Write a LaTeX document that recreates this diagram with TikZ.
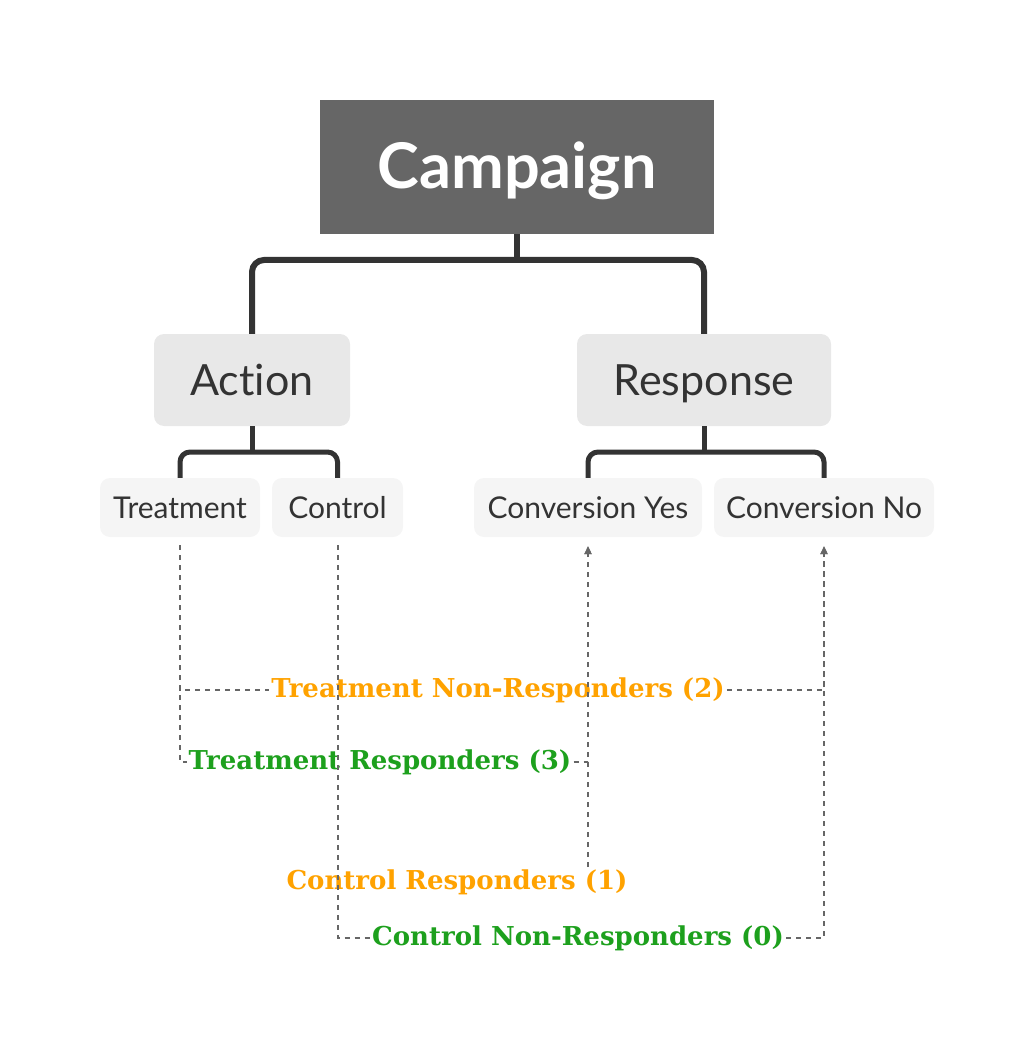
\documentclass[tikz,border=0pt]{standalone}
\usepackage{fontspec}
\setmainfont{Lato}[Ligatures=NoCommon]
\newfontfamily\labfont{DejaVu Serif}
\usetikzlibrary{arrows.meta}
\definecolor{campfill}{HTML}{666666}
\definecolor{midfill}{HTML}{E8E8E8}
\definecolor{leaffill}{HTML}{F5F5F5}
\definecolor{ink}{HTML}{333333}
\definecolor{dashgray}{HTML}{666666}
\definecolor{lblorange}{HTML}{FFA200}
\definecolor{lblgreen}{HTML}{1DA01D}
\tikzset{
  campbox/.style={rectangle, fill=campfill, text=white, minimum width=394pt, minimum height=134pt, inner sep=0pt, font=\fontsize{63}{70}\selectfont\bfseries, text height=43pt, text depth=0pt},
  midbox/.style={rectangle, rounded corners=10pt, fill=midfill, text=ink, minimum height=92pt, inner sep=0pt, font=\fontsize{43}{48}\selectfont, text height=30pt, text depth=0pt},
  leafbox/.style={rectangle, rounded corners=10pt, fill=leaffill, text=ink, minimum height=59pt, inner sep=0pt, font=\fontsize{30}{34}\selectfont, text height=21.5pt, text depth=0pt},
  treeline/.style={draw=ink, line width=6pt, rounded corners=12pt},
  treeline2/.style={draw=ink, line width=5pt, rounded corners=10pt},
  dashline/.style={draw=dashgray, line width=2pt, dash pattern=on 5pt off 5pt},
  dasharrow/.style={dashline, -{Triangle[length=8pt,width=7pt]}},
  lbl/.style={inner sep=2pt, font=\labfont\fontsize{26}{30}\selectfont\bfseries},
}
\begin{document}
\begin{tikzpicture}[x=1pt,y=-1pt]
\useasboundingbox (0,0) rectangle (1034,1056);
\node[campbox] (camp) at (517,167) {Campaign};
\node[midbox, minimum width=196pt] (act) at (252,380) {Action};
\node[midbox, minimum width=254pt] (resp) at (704,380) {Response};
\node[leafbox, minimum width=160pt] (treat) at (180,507.5) {Treatment};
\node[leafbox, minimum width=131pt] (ctrl) at (337.5,507.5) {Control};
\node[leafbox, minimum width=228pt] (cyes) at (588,507.5) {Conversion Yes};
\node[leafbox, minimum width=220pt] (cno) at (824,507.5) {Conversion No};
% tree connectors
\draw[treeline] (camp.south) -- (camp.south |- 0,260);
\draw[treeline] (act.north) -- (act.north |- 0,260) -- (resp.north |- 0,260) -- (resp.north);
\draw[treeline2] (act.south) -- (act.south |- 0,452);
\draw[treeline2] (treat.north) -- (treat.north |- 0,452) -- (ctrl.north |- 0,452) -- (ctrl.north);
\draw[treeline2] (resp.south) -- (resp.south |- 0,452);
\draw[treeline2] (cyes.north) -- (cyes.north |- 0,452) -- (cno.north |- 0,452) -- (cno.north);
% labels
\node[lbl, text=lblorange] (tnr) at (498,690) {Treatment Non-Responders (2)};
\node[lbl, text=lblgreen] (tr) at (380,762) {Treatment Responders (3)};
\node[lbl, text=lblorange] (cr) at (457,882) {Control Responders (1)};
\node[lbl, text=lblgreen] (cnr) at (578,938) {Control Non-Responders (0)};
% dashed connectors
\coordinate (treatS) at ([yshift=-8pt]treat.south);
\coordinate (ctrlS) at ([yshift=-8pt]ctrl.south);
\coordinate (cyesS) at ([yshift=-9pt]cyes.south);
\coordinate (cnoS) at ([yshift=-9pt]cno.south);
\draw[dashline] (treatS) |- (tnr.west);
\draw[dasharrow] (tnr.east) -| (cnoS);
\draw[dashline] (treatS) |- (tr.west);
\draw[dasharrow] (tr.east) -| (cyesS);
\draw[dasharrow] (cyesS |- cr.north) -- (cyesS);
\draw[dashline] (ctrlS) |- (cnr.west);
\draw[dasharrow] (cnr.east) -| (cnoS);
\end{tikzpicture}
\end{document}
